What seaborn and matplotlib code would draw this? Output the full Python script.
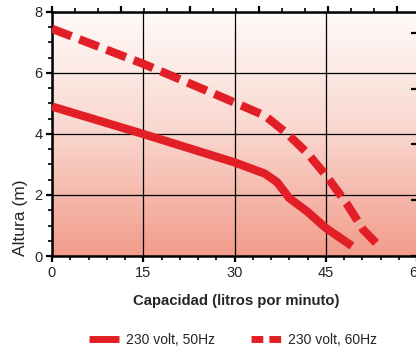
import numpy as np
import pandas as pd
import seaborn as sns
import matplotlib.pyplot as plt
import matplotlib.colors as mcolors
from matplotlib.lines import Line2D
from matplotlib.ticker import MultipleLocator, NullFormatter

# curvas de la bomba
caudal_50 = [0, 15, 30, 35, 37, 39, 42, 45, 49.3]
altura_50 = [4.9, 4.0, 3.07, 2.7, 2.42, 1.9, 1.45, 0.92, 0.33]
caudal_60 = [0, 15, 28.4, 35, 38.6, 42, 45.2, 48.4, 51.2, 54]
altura_60 = [7.45, 6.3, 5.17, 4.6, 4.02, 3.37, 2.6, 1.73, 0.85, 0.28]
series = ['230 volt, 50Hz', '230 volt, 60Hz']
x_ticks = [0, 15, 30, 45, 60]
y_ticks = [0, 2, 4, 6, 8]

rojo = '#e21f26'
L_POR_GAL = 3.785

sns.set_style('ticks')
plt.rcParams['font.family'] = ['Liberation Sans', 'DejaVu Sans']

fig = plt.figure(figsize=(4.16, 3.51), dpi=100)
ax = fig.add_axes([52 / 416, 95 / 351, 365 / 416, 244 / 351])

# fondo degradado (blanco arriba, salmón abajo)
cmap = mcolors.LinearSegmentedColormap.from_list('', ['#fffbfa', '#f9d6cd', '#f29c8b'])
grad = np.linspace(0, 1, 256).reshape(-1, 1)
ax.imshow(grad, cmap=cmap, aspect='auto', extent=[0, 60, 0, 8], zorder=0)

df50 = pd.DataFrame({'x': caudal_50, 'y': altura_50})
df60 = pd.DataFrame({'x': caudal_60, 'y': altura_60})
sns.lineplot(data=df50, x='x', y='y', sort=False, ax=ax, color=rojo, lw=6,
             solid_capstyle='butt', solid_joinstyle='round', zorder=3)
sns.lineplot(data=df60, x='x', y='y', sort=False, ax=ax, color=rojo, lw=6,
             dashes=False, zorder=3)
ax.lines[-1].set_dashes((2.5, 1.0))
ax.lines[-1].set_dash_capstyle('butt')

ax.set_xlim(0, 60)
ax.set_ylim(0, 8)
ax.grid(True, color='black', lw=0.9, zorder=1)

ax.set_xticks(x_ticks)
ax.set_yticks(y_ticks)
ax.xaxis.set_minor_locator(MultipleLocator(3))
ax.yaxis.set_minor_locator(MultipleLocator(0.5))
for s in ['left', 'bottom', 'top']:
    ax.spines[s].set_linewidth(1.8)
    ax.spines[s].set_color('black')
ax.spines['right'].set_visible(False)
ax.tick_params(which='major', length=4, width=1.6, labelsize=10.5, pad=3, color='black')
ax.tick_params(which='minor', length=3, width=1.2, color='black')
ax.set_xlabel('')
ax.set_ylabel('')

# marcas del eje superior en galones por minuto (cada 1 gal, mayores cada 3)
gal = np.arange(0, 16)
mayor = gal % 3 == 0
h = 1 / 244  # un pixel en fracción del eje
ax.vlines(gal[mayor] * L_POR_GAL, 1, 1 + 6 * h, transform=ax.get_xaxis_transform(),
          colors='black', lw=1.6, clip_on=False, zorder=5)
ax.vlines(gal[~mayor] * L_POR_GAL, 1, 1 + 4 * h, transform=ax.get_xaxis_transform(),
          colors='black', lw=1.2, clip_on=False, zorder=5)
ax.set_xlim(0, 60)
ax.set_ylim(0, 8)

# eje derecho (pies)
right = ax.twinx()
right.set_ylim(0, 8 / 0.3048)
right.yaxis.set_major_locator(MultipleLocator(6))
right.yaxis.set_major_formatter(NullFormatter())
right.tick_params(axis='y', which='major', right=True, direction='in', length=4, width=1.6, color='black')
right.tick_params(axis='y', which='minor', right=False)
right.tick_params(axis='x', bottom=False, top=False, labelbottom=False)
for s in right.spines.values():
    s.set_visible(False)

fig.text(236 / 416, 1 - 301 / 351, 'Capacidad (litros por minuto)', ha='center', va='center',
         fontsize=10.7, fontweight='bold')
fig.text(21 / 416, 1 - 218 / 351, 'Altura (m)', ha='center', va='center', rotation=90, fontsize=12.5)

handles = [Line2D([], [], color=rojo, lw=5, solid_capstyle='butt'),
           Line2D([], [], color=rojo, lw=5, dashes=(1.7, 0.87), dash_capstyle='butt')]
fig.legend(handles, series, loc='center', bbox_to_anchor=(233 / 416, 1 - 340 / 351), ncol=2,
           frameon=False, fontsize=10, handlelength=2.16, handletextpad=0.5, columnspacing=2.66,
           borderpad=0, borderaxespad=0)

fig.savefig('out.png', dpi=100)
